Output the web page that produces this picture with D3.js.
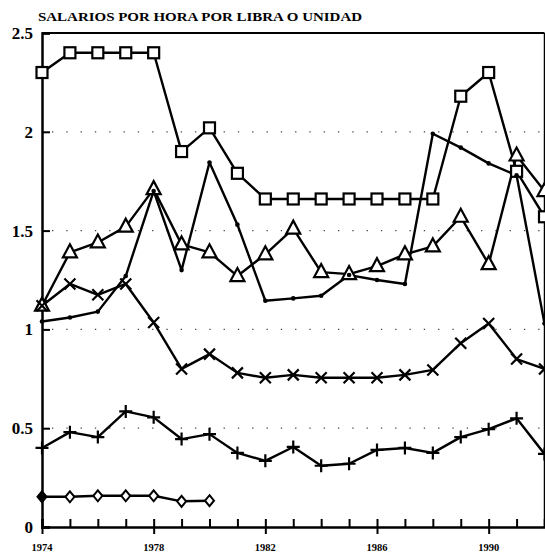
<!DOCTYPE html>
<html>
<head>
<meta charset="utf-8">
<script src="https://cdn.jsdelivr.net/npm/d3@7"></script>
<style>
  html, body { margin: 0; padding: 0; background: #fff; }
  svg { display: block; }
</style>
</head>
<body>
<svg id="chart" width="545" height="556"></svg>
<script>
const years = d3.range(1974, 1993);
const squareSeries = [2.30, 2.40, 2.40, 2.40, 2.40, 1.90, 2.02, 1.79, 1.66, 1.66, 1.66, 1.66, 1.66, 1.66, 1.66, 2.18, 2.30, 1.80, 1.57];
const triangleSeries = [1.12, 1.39, 1.44, 1.52, 1.71, 1.43, 1.39, 1.27, 1.38, 1.51, 1.29, 1.28, 1.32, 1.38, 1.42, 1.57, 1.33, 1.88, 1.70];
const dotSeries = [1.04, 1.06, 1.09, 1.27, 1.70, 1.30, 1.845, 1.53, 1.145, 1.157, 1.17, 1.275, 1.25, 1.23, 1.99, 1.92, 1.84, 1.78, 1.03];
const crossSeries = [1.12, 1.23, 1.175, 1.23, 1.035, 0.80, 0.875, 0.78, 0.755, 0.77, 0.755, 0.755, 0.755, 0.77, 0.795, 0.93, 1.03, 0.85, 0.80];
const plusSeries = [0.40, 0.48, 0.455, 0.585, 0.555, 0.445, 0.47, 0.375, 0.335, 0.405, 0.31, 0.32, 0.39, 0.40, 0.375, 0.455, 0.495, 0.55, 0.37];
const diamondYears = [1974, 1975, 1976, 1977, 1978, 1979, 1980];
const diamondSeries = [0.153, 0.153, 0.158, 0.158, 0.158, 0.13, 0.133];
const yTicks = [0, 0.5, 1, 1.5, 2, 2.5];
const yTickLabels = ["0", "0.5", "1", "1.5", "2", "2.5"];
const xLabelYears = [1974, 1978, 1982, 1986, 1990];
const title = "SALARIOS POR HORA POR LIBRA O UNIDAD";

const svg = d3.select("#chart");
const x = d3.scaleLinear().domain([1974, 1992]).range([42, 544.5]);
const y = d3.scaleLinear().domain([0, 2.5]).range([527, 33]);
const serif = "'Liberation Serif', 'DejaVu Serif', serif";

// title
svg.append("text")
  .attr("x", 38).attr("y", 21)
  .attr("font-family", serif).attr("font-weight", "bold")
  .attr("font-size", 12.5)
  .attr("textLength", 324).attr("lengthAdjust", "spacingAndGlyphs")
  .text(title);

// dotted grid lines
svg.append("g").selectAll("line")
  .data(yTicks.filter(t => t > 0 && t < 2.5))
  .join("line")
  .attr("x1", x(1974) + 10).attr("x2", x(1992) - 2)
  .attr("y1", d => y(d)).attr("y2", d => y(d))
  .attr("stroke", "#444").attr("stroke-width", 1.3)
  .attr("stroke-dasharray", "1.3 13");

// frame: top and right
svg.append("line").attr("x1", x(1974)).attr("x2", x(1992)).attr("y1", y(2.5)).attr("y2", y(2.5))
  .attr("stroke", "#000").attr("stroke-width", 2.2);
svg.append("line").attr("x1", x(1992)).attr("x2", x(1992)).attr("y1", y(2.5)).attr("y2", y(0))
  .attr("stroke", "#000").attr("stroke-width", 1.5);

// y axis
const yAxis = d3.axisRight(y).tickValues(yTicks).tickSize(8).tickFormat("");
const gy = svg.append("g").attr("transform", `translate(${x(1974)},0)`).call(yAxis);
gy.select(".domain").attr("stroke-width", 2.5);
gy.selectAll(".tick line").attr("stroke-width", 2);
svg.append("g").selectAll("text")
  .data(yTicks)
  .join("text")
  .attr("x", 33).attr("y", d => y(d) + 6)
  .attr("text-anchor", "end")
  .attr("font-family", serif).attr("font-weight", "bold").attr("font-size", 17)
  .text((d, i) => yTickLabels[i]);

// x axis
const xAxisMinor = d3.axisTop(x).tickValues(years).tickSize(8).tickFormat("");
const gx = svg.append("g").attr("transform", `translate(0,${y(0)})`).call(xAxisMinor);
gx.select(".domain").attr("stroke-width", 2.5);
gx.selectAll(".tick line").attr("stroke-width", 2);
const xAxisMajor = d3.axisBottom(x).tickValues(xLabelYears).tickSize(7).tickFormat("");
const gx2 = svg.append("g").attr("transform", `translate(0,${y(0)})`).call(xAxisMajor);
gx2.select(".domain").remove();
gx2.selectAll(".tick line").attr("stroke-width", 2);
svg.append("g").selectAll("text")
  .data(xLabelYears)
  .join("text")
  .attr("x", d => x(d)).attr("y", 551)
  .attr("text-anchor", "middle")
  .attr("font-family", serif).attr("font-weight", "bold").attr("font-size", 10)
  .attr("textLength", 21).attr("lengthAdjust", "spacingAndGlyphs")
  .text(d => d);

// series
const line = d3.line().x(d => x(d[0])).y(d => y(d[1]));
function drawLine(xs, vals) {
  const pts = xs.map((yr, i) => [yr, vals[i]]);
  svg.append("path").datum(pts).attr("d", line)
    .attr("fill", "none").attr("stroke", "#000").attr("stroke-width", 2.4)
    .attr("stroke-linejoin", "round");
  return pts;
}
const sq = drawLine(years, squareSeries);
const tr = drawLine(years, triangleSeries);
const dt = drawLine(years, dotSeries);
const cr = drawLine(years, crossSeries);
const pl = drawLine(years, plusSeries);
const dm = drawLine(diamondYears, diamondSeries);

const g = svg.append("g");
// squares
g.selectAll(".sq").data(sq).join("rect")
  .attr("x", d => x(d[0]) - 5.5).attr("y", d => y(d[1]) - 5.5)
  .attr("width", 11).attr("height", 11)
  .attr("fill", "#fff").attr("stroke", "#000").attr("stroke-width", 2.2);
// triangles
g.selectAll(".tr").data(tr).join("path")
  .attr("d", d => { const cx = x(d[0]), cy = y(d[1]); return `M${cx},${cy - 8}L${cx + 7},${cy + 5}L${cx - 7},${cy + 5}Z`; })
  .attr("fill", "#fff").attr("stroke", "#000").attr("stroke-width", 2.2);
// dots
g.selectAll(".dt").data(dt).join("circle")
  .attr("cx", d => x(d[0])).attr("cy", d => y(d[1])).attr("r", 2.3)
  .attr("fill", "#000");
// crosses
g.selectAll(".cr").data(cr).join("path")
  .attr("d", d => { const cx = x(d[0]), cy = y(d[1]), s = 5.5; return `M${cx - s},${cy - s}L${cx + s},${cy + s}M${cx - s},${cy + s}L${cx + s},${cy - s}`; })
  .attr("stroke", "#000").attr("stroke-width", 2.2);
// plus
g.selectAll(".pl").data(pl).join("path")
  .attr("d", d => { const cx = x(d[0]), cy = y(d[1]), s = 6.5; return `M${cx - s},${cy}L${cx + s},${cy}M${cx},${cy - s}L${cx},${cy + s}`; })
  .attr("stroke", "#000").attr("stroke-width", 2.2);
// diamonds
g.selectAll(".dm").data(dm).join("path")
  .attr("d", d => { const cx = x(d[0]), cy = y(d[1]); return `M${cx},${cy - 5.5}L${cx + 4.5},${cy}L${cx},${cy + 5.5}L${cx - 4.5},${cy}Z`; })
  .attr("fill", (d, i) => i === 0 ? "#000" : "#fff").attr("stroke", "#000").attr("stroke-width", 2);
</script>
</body>
</html>
